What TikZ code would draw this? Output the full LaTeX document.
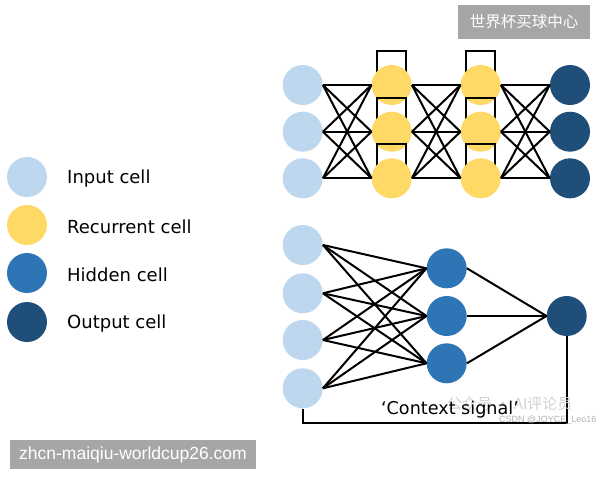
\documentclass[tikz,border=0pt]{standalone}
\usepackage{fontspec}
\setmainfont{DejaVu Sans}
\newfontfamily\cjk{Noto Sans CJK SC}
\newfontfamily\wmfont{Liberation Sans}
\usetikzlibrary{calc}
\definecolor{incol}{HTML}{BDD7EE}
\definecolor{reccol}{HTML}{FFD966}
\definecolor{hidcol}{HTML}{2E75B6}
\definecolor{outcol}{HTML}{1F4E79}
\definecolor{wmbox}{HTML}{A6A6A6}
\tikzset{
  cell/.style={circle, minimum size=40pt, inner sep=0pt, draw=none},
  incell/.style={cell, fill=incol},
  reccell/.style={cell, fill=reccol},
  hidcell/.style={cell, fill=hidcol},
  outcell/.style={cell, fill=outcol},
  conn/.style={black, line width=2pt},
  legtext/.style={anchor=west, font=\fontsize{18}{20}\selectfont, inner sep=0pt},
}
\begin{document}
\begin{tikzpicture}[x=1pt, y=-1pt]
\useasboundingbox (0,0) rectangle (600,480);
\fill[white] (0,0) rectangle (600,480);

% ---------- Legend ----------
\node[incell]  (l1) at (27,177) {};
\node[reccell] (l2) at (27,225) {};
\node[hidcell] (l3) at (27,273) {};
\node[outcell] (l4) at (27,322) {};
\node[legtext] (t1) at (67,179) {Input cell};
\node[legtext] (t2) at (67,227) {Recurrent cell};
\node[legtext] (t3) at (67,275) {Hidden cell};
\node[legtext] (t4) at (67,324) {Output cell};

% ---------- Top network ----------
\foreach \i/\y in {1/85,2/131.7,3/178.3}{
  \node[incell] (a\i) at (302.7,\y) {};
}
\foreach \i/\y in {1/85,2/131.7,3/178.3}{
  \coordinate (cb\i) at (391.7,\y);
  \draw[conn] ($(cb\i)+(-14.5,0)$) -- ++(0,-34) -- ++(29,0) -- ++(0,34);
  \node[reccell] (b\i) at (cb\i) {};
}
\foreach \i/\y in {1/85,2/131.7,3/178.3}{
  \coordinate (cc\i) at (480.7,\y);
  \draw[conn] ($(cc\i)+(-14.5,0)$) -- ++(0,-34) -- ++(29,0) -- ++(0,34);
  \node[reccell] (c\i) at (cc\i) {};
}
\foreach \i/\y in {1/85,2/131.7,3/178.3}{
  \node[outcell] (d\i) at (570,\y) {};
}
\foreach \i in {1,2,3}{
  \foreach \j in {1,2,3}{
    \draw[conn] (a\i.east) -- (b\j.west);
    \draw[conn] (b\i.east) -- (c\j.west);
    \draw[conn] (c\i.east) -- (d\j.west);
  }
}

% ---------- Bottom network ----------
\foreach \i/\y in {1/245,2/293.3,3/340,4/388.3}{
  \node[incell] (e\i) at (302.7,\y) {};
}
\foreach \i/\y in {1/268.3,2/316,3/363.3}{
  \node[hidcell] (h\i) at (446.7,\y) {};
}
\node[outcell] (o1) at (566.7,316) {};
\foreach \i in {1,2,3,4}{
  \foreach \j in {1,2,3}{
    \draw[conn] (e\i.east) -- (h\j.west);
  }
}
\foreach \j in {1,2,3}{
  \draw[conn] (h\j.east) -- (o1.west);
}
\coordinate (k1) at (566.7,423.3);
\coordinate (k2) at (302.7,423.3);
\draw[conn] (o1.south) -- (k1) -- (k2) -- (e4.south);

% faint watermark texts
\node[text=black!18, font=\cjk\fontsize{15}{16}\selectfont, anchor=west, inner sep=0pt] (wm1) at (447,404) {公众号 · AI评论员};
\node[text=black!30, font=\wmfont\fontsize{9}{10}\selectfont, anchor=west, inner sep=0pt] (wm2) at (499,420) {CSDN @JOYCE\_Leo16};

\node[font=\fontsize{17.6}{19}\selectfont, inner sep=0pt] (ctx) at (450,410) {‘Context signal’};

% ---------- Watermark boxes ----------
\node[fill=wmbox, text=white, font=\cjk\fontsize{15.5}{17}\selectfont, minimum width=132pt, minimum height=34pt, inner sep=0pt] (wb1) at (524,22) {世界杯买球中心};
\node[fill=wmbox, text=white, font=\wmfont\fontsize{17.5}{19}\selectfont, minimum width=246pt, minimum height=29pt, inner sep=0pt] (wb2) at (133,454.5) {zhcn-maiqiu-worldcup26.com};
\end{tikzpicture}
\end{document}
